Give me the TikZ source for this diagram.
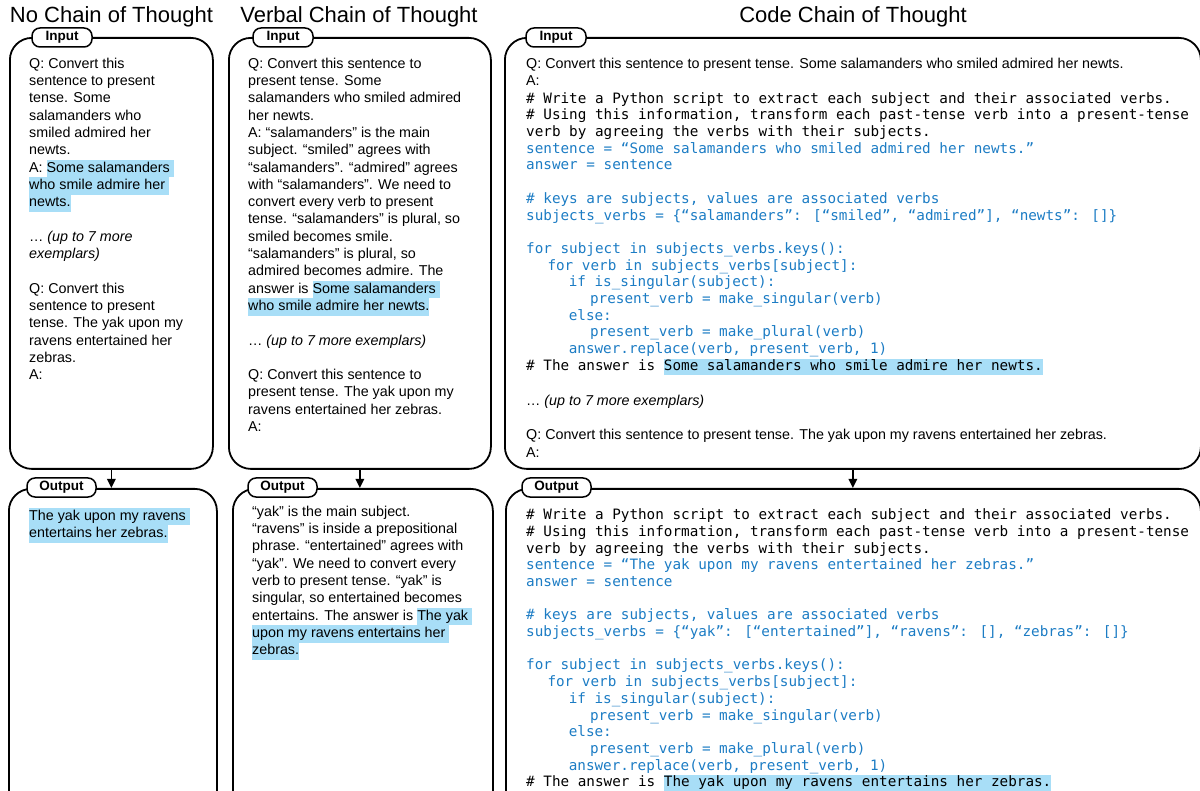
\documentclass[tikz,border=0pt]{standalone}
\usepackage{fontspec}
\setmainfont{Liberation Sans}
\newfontfamily\codefont{DejaVu Sans Mono}
\usetikzlibrary{arrows.meta, positioning}

\definecolor{hlblue}{RGB}{168,222,247}
\definecolor{codeblue}{RGB}{28,124,196}

\newcommand{\hl}[1]{{\setlength{\fboxsep}{0pt}\colorbox{hlblue}{\strut#1}}}
\newcommand{\cb}[1]{\textcolor{codeblue}{#1}}
\newcommand{\ind}{\hspace*{21.3pt}}
\newcommand{\topheight}{431pt}
\newcommand{\lowheight}{340pt}

\tikzstyle{heading} = [% column heading
  anchor=base,
  font=\fontsize{22}{26}\selectfont
]
\tikzstyle{panel} = [% rounded frame of a prompt or an answer
  rectangle,
  rounded corners=22pt,
  anchor=north west,
  inner sep=0pt,
  line width=1.8pt,
  draw=black
]
\tikzstyle{badge} = [% small label sitting on a frame
  rectangle,
  rounded corners=8pt,
  minimum height=19pt,
  inner sep=0pt,
  line width=1.5pt,
  draw=black,
  fill=white,
  font=\fontsize{13.5}{15}\selectfont\bfseries
]
\tikzstyle{prose} = [% plain text inside a frame
  anchor=north west,
  inner sep=0pt,
  align=left,
  font=\fontsize{14.3}{17.3}\selectfont
]
\tikzstyle{listing} = [% python text inside a frame
  anchor=north west,
  inner sep=0pt,
  align=left,
  font=\codefont\fontsize{14.3}{16.7}\selectfont
]
\tikzstyle{arrow} = [% arrow format
  -{Triangle[length=9pt,width=8.5pt]},
  line width=1.5pt
]

\begin{document}
\begin{tikzpicture}[x=1pt, y=-1pt]

\useasboundingbox (0,0) rectangle (1200,791);
\clip (0,0) rectangle (1200,791);

%%% Frames
\node[panel, minimum width=203pt, minimum height=\topheight] (inNo) at (9,37) {};
\node[panel, minimum width=262pt, minimum height=\topheight] (inVerbal) at (228,37) {};
\node[panel, minimum width=696pt, minimum height=\topheight] (inCode) at (504,37) {};

\node[panel, minimum width=208pt, minimum height=\lowheight] (outNo) at (8,488) {};
\node[panel, minimum width=260pt, minimum height=\lowheight] (outVerbal) at (232,488) {};
\node[panel, minimum width=695pt, minimum height=\lowheight] (outCode) at (505,488) {};


%%% Headings
\node[heading] (headNo) at (111.5,23) {No Chain of Thought};
\node[heading] (headVerbal) at (359,23) {Verbal Chain of Thought};
\node[heading] (headCode) at (853,23) {Code Chain of Thought};


%%% Badges
\node[badge, minimum width=60pt] (badgeInNo) at (62,37.5) {Input};
\node[badge, minimum width=60pt] (badgeInVerbal) at (283,37.5) {Input};
\node[badge, minimum width=60pt] (badgeInCode) at (556,37.5) {Input};

\node[badge, minimum width=69pt] (badgeOutNo) at (61.5,487.5) {Output};
\node[badge, minimum width=69pt] (badgeOutVerbal) at (282.5,487.5) {Output};
\node[badge, minimum width=69pt] (badgeOutCode) at (556.5,487.5) {Output};


%%% Prompts
\node[prose] (textInNo) at (29,55.9) {\strut Q: Convert this\\
  sentence to present\\
  tense. Some\\
  salamanders who\\
  smiled admired her\\
  newts.\\
  A: \hl{Some salamanders }\\
  \hl{who smile admire her }\\
  \hl{newts.}\\[\baselineskip]
  … \textit{(up to 7 more}\\
  \textit{exemplars)}\\[\baselineskip]
  Q: Convert this\\
  sentence to present\\
  tense. The yak upon my\\
  ravens entertained her\\
  zebras.\\
  A:};

\node[prose] (textInVerbal) at (248,55.9) {\strut Q: Convert this sentence to\\
  present tense. Some\\
  salamanders who smiled admired\\
  her newts.\\
  A: “salamanders” is the main\\
  subject. “smiled” agrees with\\
  “salamanders”. “admired” agrees\\
  with “salamanders”. We need to\\
  convert every verb to present\\
  tense. “salamanders” is plural, so\\
  smiled becomes smile.\\
  “salamanders” is plural, so\\
  admired becomes admire. The\\
  answer is \hl{Some salamanders }\\
  \hl{who smile admire her newts.}\\[\baselineskip]
  … \textit{(up to 7 more exemplars)}\\[\baselineskip]
  Q: Convert this sentence to\\
  present tense. The yak upon my\\
  ravens entertained her zebras.\\
  A:};

\node[prose] (textInCodeHead) at (526,55.9) {\strut Q: Convert this sentence to present tense. Some salamanders who smiled admired her newts.\\
  A:};

\node[listing] (textInCode) at (526,91.3) {\strut\# Write a Python script to extract each subject and their associated verbs.\\
  \# Using this information, transform each past-tense verb into a present-tense\\
  verb by agreeing the verbs with their subjects.\\
  \cb{sentence = “Some salamanders who smiled admired her newts.”}\\
  \cb{answer = sentence}\\[\baselineskip]
  \cb{\# keys are subjects, values are associated verbs}\\
  \cb{subjects\_verbs = \{“salamanders”: [“smiled”, “admired”], “newts”: []\}}\\[\baselineskip]
  \cb{for subject in subjects\_verbs.keys():}\\
  \ind\cb{for verb in subjects\_verbs[subject]:}\\
  \ind\ind\cb{if is\_singular(subject):}\\
  \ind\ind\ind\cb{present\_verb = make\_singular(verb)}\\
  \ind\ind\cb{else:}\\
  \ind\ind\ind\cb{present\_verb = make\_plural(verb)}\\
  \ind\ind\cb{answer.replace(verb, present\_verb, 1)}\\
  \# The answer is \hl{Some salamanders who smile admire her newts.}};

\node[prose] (textInCodeTail) at (526,392.9) {\strut … \textit{(up to 7 more exemplars)}\\[\baselineskip]
  Q: Convert this sentence to present tense. The yak upon my ravens entertained her zebras.\\
  A:};


%%% Answers
\node[prose] (textOutNo) at (29,507.9) {\hl{The yak upon my ravens }\\
  \hl{entertains her zebras.}};

\node[prose] (textOutVerbal) at (252,503.9) {\strut “yak” is the main subject.\\
  “ravens” is inside a prepositional\\
  phrase. “entertained” agrees with\\
  “yak”. We need to convert every\\
  verb to present tense. “yak” is\\
  singular, so entertained becomes\\
  entertains. The answer is \hl{The yak }\\
  \hl{upon my ravens entertains her }\\
  \hl{zebras.}};

\node[listing] (textOutCode) at (526,507.8) {\strut\# Write a Python script to extract each subject and their associated verbs.\\
  \# Using this information, transform each past-tense verb into a present-tense\\
  verb by agreeing the verbs with their subjects.\\
  \cb{sentence = “The yak upon my ravens entertained her zebras.”}\\
  \cb{answer = sentence}\\[\baselineskip]
  \cb{\# keys are subjects, values are associated verbs}\\
  \cb{subjects\_verbs = \{“yak”: [“entertained”], “ravens”: [], “zebras”: []\}}\\[\baselineskip]
  \cb{for subject in subjects\_verbs.keys():}\\
  \ind\cb{for verb in subjects\_verbs[subject]:}\\
  \ind\ind\cb{if is\_singular(subject):}\\
  \ind\ind\ind\cb{present\_verb = make\_singular(verb)}\\
  \ind\ind\cb{else:}\\
  \ind\ind\ind\cb{present\_verb = make\_plural(verb)}\\
  \ind\ind\cb{answer.replace(verb, present\_verb, 1)}\\
  \# The answer is \hl{The yak upon my ravens entertains her zebras.}};


%%% Arrows
\draw[arrow] (inNo.south) -- (inNo.south |- outNo.north);
\draw[arrow] (inVerbal.south) -- (inVerbal.south |- outVerbal.north);
\draw[arrow] (inCode.south) -- (inCode.south |- outCode.north);

\end{tikzpicture}
\end{document}
